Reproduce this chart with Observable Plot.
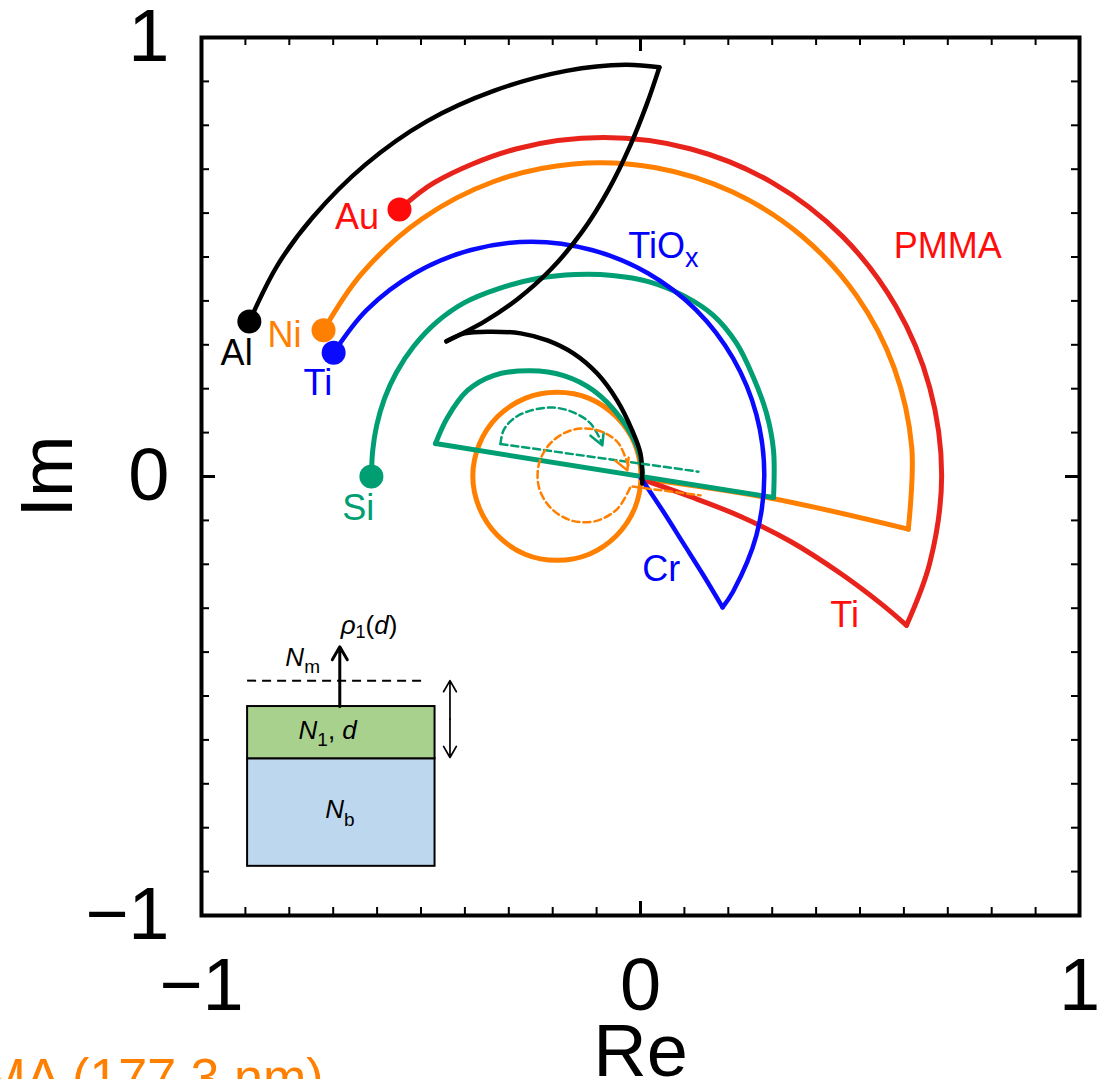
<!DOCTYPE html>
<html><head><meta charset="utf-8">
<script src="https://cdn.jsdelivr.net/npm/d3@7"></script>
<script src="https://cdn.jsdelivr.net/npm/@observablehq/plot@0.6"></script>
<style>
html,body{margin:0;padding:0;background:#fff;overflow:hidden;}
#chart svg{display:block;}
</style></head>
<body><div id="chart"></div>
<script>
// ---------- data: [Re, Im] points ----------
// Al substrate (black)
const alArc = [[-0.891,0.353],[-0.827,0.481],[-0.747,0.590],[-0.626,0.711],[-0.487,0.809],[-0.333,0.879],[-0.169,0.924],[-0.034,0.938],[0.043,0.932]];
const alReturn = [[0.043,0.932],[0.015,0.850],[-0.023,0.755],[-0.073,0.653],[-0.134,0.556],[-0.204,0.472],[-0.279,0.405],[-0.354,0.354],[-0.442,0.308]];
const alLoop = [[-0.442,0.308],[-0.401,0.326],[-0.342,0.330],[-0.273,0.326],[-0.212,0.310],[-0.152,0.280],[-0.099,0.235],[-0.053,0.173],[-0.019,0.105],[0.000,0.052],[0.004,-0.016]];
// Au substrate + PMMA, then Ti (red)
const auArc = [[-0.549,0.608],[-0.469,0.670],[-0.284,0.746],[-0.084,0.772],[0.115,0.746],[0.301,0.669],[0.460,0.547],[0.582,0.387],[0.659,0.202],[0.686,0.002],[0.659,-0.197],[0.606,-0.339]];
const auTi = [[0.606,-0.339],[0.547,-0.289],[0.456,-0.221],[0.342,-0.148],[0.228,-0.091],[0.114,-0.046],[0.005,-0.007]];
// Ni substrate (orange)
const niArc = [[-0.722,0.333],[-0.636,0.461],[-0.499,0.586],[-0.334,0.672],[-0.153,0.712],[0.032,0.704],[0.210,0.648],[0.366,0.549],[0.492,0.412],[0.578,0.247],[0.618,0.065],[0.610,-0.120]];
const niLine = [[0.610,-0.120],[0.300,-0.050],[0.000,-0.004]];
const niLoop = [[0.001,0.001],[-0.013,0.074],[-0.055,0.136],[-0.117,0.178],[-0.190,0.192],[-0.263,0.178],[-0.326,0.136],[-0.367,0.074],[-0.382,0.001],[-0.367,-0.072],[-0.326,-0.134],[-0.263,-0.177],[-0.190,-0.191],[-0.117,-0.177],[-0.055,-0.135],[-0.013,-0.072]];
// Ti substrate + TiOx, then Cr (blue)
const tiArc = [[-0.699,0.282],[-0.624,0.379],[-0.514,0.463],[-0.386,0.516],[-0.248,0.535],[-0.111,0.516],[0.017,0.463],[0.127,0.379],[0.211,0.269],[0.264,0.141],[0.282,0.003],[0.264,-0.134],[0.211,-0.262],[0.187,-0.298]];
const tiCr = [[0.187,-0.298],[0.144,-0.226],[0.098,-0.153],[0.050,-0.077],[0.002,-0.005]];
// Si substrate (green)
const siArc = [[-0.613,0.000],[-0.610,0.059],[-0.601,0.116],[-0.583,0.178],[-0.556,0.237],[-0.517,0.296],[-0.465,0.351],[-0.401,0.396],[-0.323,0.428],[-0.235,0.451],[-0.148,0.460],[-0.064,0.458],[0.018,0.444],[0.098,0.412],[0.166,0.367],[0.219,0.303],[0.257,0.226],[0.287,0.144],[0.303,0.059],[0.303,-0.048]];
const siLine = [[0.303,-0.048],[-0.467,0.075]];
const siLoop = [[-0.467,0.075],[-0.440,0.134],[-0.394,0.196],[-0.335,0.230],[-0.251,0.241],[-0.175,0.230],[-0.107,0.196],[-0.046,0.134],[-0.007,0.066],[0.005,0.009]];
// dashed guide arrows
const greenDashLine = [[-0.319,0.074],[0.132,0.011]];
const greenDashArc = [[-0.319,0.074],[-0.312,0.105],[-0.289,0.132],[-0.251,0.150],[-0.198,0.157],[-0.153,0.146],[-0.114,0.121],[-0.087,0.075]];
const greenHead = [[-0.114,0.093],[-0.087,0.071],[-0.084,0.100]];
const orangeDashLine = [[-0.018,-0.023],[0.137,-0.043]];
const orangeDashArc = [[-0.024,-0.026],[-0.052,-0.073],[-0.100,-0.101],[-0.155,-0.101],[-0.203,-0.073],[-0.231,-0.026],[-0.231,0.030],[-0.203,0.078],[-0.155,0.106],[-0.100,0.106],[-0.052,0.078],[-0.027,0.022]];
const orangeHead = [[-0.057,0.036],[-0.030,0.014],[-0.027,0.043]];
// starting points (substrates)
const startNames = ["Al","Ni","Ti","Si","Au"];
const startRe = [-0.891,-0.722,-0.699,-0.613,-0.549];
const startIm = [0.353,0.333,0.282,0.000,0.608];
// curve labels
const labelText = ["Al","Ni","Ti","Si","Au","TiOx","PMMA","Cr","Ti"];
const labelSeries = ["Al","Ni","Ti","Si","Au","Ti","Au","Ti","Au"];
const labelRe = [-0.920,-0.811,-0.735,-0.643,-0.646,0.052,0.700,0.047,0.465];
const labelIm = [0.253,0.294,0.185,-0.100,0.563,0.497,0.497,-0.237,-0.342];
// axis ticks
const majorTicks = [-1,0,1];
const minorTicks = [-0.9,-0.8,-0.7,-0.6,-0.5,-0.4,-0.3,-0.2,-0.1,0.1,0.2,0.3,0.4,0.5,0.6,0.7,0.8,0.9];
const centerTicks = [0];
// inset schematic (film on substrate)
const filmBox = {x1:-0.895, x2:-0.468, y1:-0.643, y2:-0.524};
const bulkBox = {x1:-0.895, x2:-0.468, y1:-0.888, y2:-0.643};
const ambientLine = {x1:-0.895, x2:-0.485, y:-0.465};
const rhoArrow = {x:-0.685, y1:-0.524, y2:-0.388};
const thickArrow = {x:-0.434, y1:-0.465, y2:-0.640};
const insetText = ["ρ1(d)","Nm","N1, d","Nb"];
const insetRe = [-0.683,-0.809,-0.779,-0.718];
const insetIm = [-0.358,-0.431,-0.597,-0.779];
const captionText = "PMMA (177.3 nm)";
const captionRe = -0.722, captionIm = -1.408;

// ---------- styles ----------
const COLORS = {Al:"#000000", Ni:"#ff8000", Ti:"#0a0aff", Si:"#009e73", Au:"#e8231b"};
const LABELCOLORS = {Al:"#000000", Ni:"#ff8000", Ti:"#0000ff", Si:"#009e73", Au:"#ff0d0d"};
const FONT = "'Liberation Sans', Arial, Helvetica, sans-serif";
const XY = {x: d => d[0], y: d => d[1]};
const line = (pts, color, w = 5, curve = "catmull-rom") => Plot.line(pts, {...XY, stroke: color, strokeWidth: w, curve, strokeLinecap: "round", strokeLinejoin: "round"});
const dashed = (pts, color) => Plot.line(pts, {...XY, stroke: color, strokeWidth: 2.5, strokeDasharray: "7,4", curve: "catmull-rom"});

const plot = Plot.plot({
  width: 1099, height: 1079,
  marginLeft: 201, marginRight: 20, marginTop: 37, marginBottom: 164,
  x: {domain: [-1, 1]}, y: {domain: [-1, 1]},
  style: {fontFamily: FONT, background: "#fff", overflow: "hidden"},
  marks: [
    // inset schematic
    Plot.rect([bulkBox], {x1: "x1", x2: "x2", y1: "y1", y2: "y2", fill: "#bdd7ee", stroke: "#000", strokeWidth: 2}),
    Plot.rect([filmBox], {x1: "x1", x2: "x2", y1: "y1", y2: "y2", fill: "#a9d18e", stroke: "#000", strokeWidth: 2}),
    Plot.ruleY([ambientLine], {y: "y", x1: "x1", x2: "x2", stroke: "#000", strokeWidth: 2, strokeDasharray: "9,6"}),
    Plot.arrow([rhoArrow], {x1: "x", x2: "x", y1: "y1", y2: "y2", stroke: "#000", strokeWidth: 3, headLength: 7.5, headAngle: 60}),
    Plot.arrow([thickArrow], {x1: "x", x2: "x", y1: d => (d.y1 + d.y2) / 2, y2: "y1", stroke: "#000", strokeWidth: 1.7, headLength: 12, headAngle: 60}),
    Plot.arrow([thickArrow], {x1: "x", x2: "x", y1: d => (d.y1 + d.y2) / 2, y2: "y2", stroke: "#000", strokeWidth: 1.7, headLength: 12, headAngle: 60}),
    Plot.text(insetText, {x: (d, i) => insetRe[i], y: (d, i) => insetIm[i], text: d => d, textAnchor: "start", lineAnchor: "bottom", fontSize: 26, fill: "#000"}),
    // curves
    line(niArc, COLORS.Ni), line(niLine, COLORS.Ni), line(niLoop, COLORS.Ni, 5, "catmull-rom-closed"),
    line(auArc, COLORS.Au), line(auTi, COLORS.Au),
    line(siArc, COLORS.Si), line(siLine, COLORS.Si), line(siLoop, COLORS.Si),
    line(tiArc, COLORS.Ti, 4.5), line(tiCr, COLORS.Ti, 4.5),
    line(alArc, COLORS.Al, 4.5), line(alReturn, COLORS.Al, 4.5), line(alLoop, COLORS.Al, 4.5),
    // dashed guides
    dashed(greenDashLine, COLORS.Si), dashed(greenDashArc, COLORS.Si),
    Plot.line(greenHead, {...XY, stroke: COLORS.Si, strokeWidth: 2.5}),
    dashed(orangeDashLine, COLORS.Ni), dashed(orangeDashArc, COLORS.Ni),
    Plot.line(orangeHead, {...XY, stroke: COLORS.Ni, strokeWidth: 2.5}),
    // start dots
    Plot.dot(startNames, {x: (d, i) => startRe[i], y: (d, i) => startIm[i], r: 12, fill: d => d === "Au" ? "#ff0a0a" : COLORS[d], stroke: "none"}),
    // labels
    Plot.text(labelText, {x: (d, i) => labelRe[i], y: (d, i) => labelIm[i], text: d => d, fill: (d, i) => LABELCOLORS[labelSeries[i]], fontSize: 36, textAnchor: "middle", lineAnchor: "bottom"}),
    Plot.text([captionText], {x: () => captionRe, y: () => captionIm, text: d => d, fill: COLORS.Ni, fontSize: 52, textAnchor: "end", lineAnchor: "bottom"}),
    // inward ticks on all four sides
    Plot.tickX(minorTicks, {x: d => d, insetTop: 870, stroke: "#000", strokeWidth: 2}),
    Plot.tickX(minorTicks, {x: d => d, insetBottom: 870, stroke: "#000", strokeWidth: 2}),
    Plot.tickY(minorTicks, {y: d => d, insetRight: 870, stroke: "#000", strokeWidth: 2}),
    Plot.tickY(minorTicks, {y: d => d, insetLeft: 870, stroke: "#000", strokeWidth: 2}),
    Plot.tickX(centerTicks, {x: d => d, insetTop: 864, stroke: "#000", strokeWidth: 3}),
    Plot.tickX(centerTicks, {x: d => d, insetBottom: 864, stroke: "#000", strokeWidth: 3}),
    Plot.tickY(centerTicks, {y: d => d, insetRight: 864, stroke: "#000", strokeWidth: 3}),
    Plot.tickY(centerTicks, {y: d => d, insetLeft: 864, stroke: "#000", strokeWidth: 3}),
    Plot.frame({stroke: "#000", strokeWidth: 4}),
    // axes
    Plot.axisX(majorTicks, {anchor: "bottom", tickSize: 0, tickPadding: 42, fontSize: 74, label: null, tickFormat: d => d < 0 ? "\u2212" + Math.abs(d) : String(d), fill: "#000"}),
    Plot.axisY(majorTicks, {anchor: "left", tickSize: 0, tickPadding: 32, fontSize: 74, label: null, tickFormat: d => d < 0 ? "\u2212" + Math.abs(d) : String(d), fill: "#000"}),
    Plot.text(["Re"], {frameAnchor: "bottom", dy: 160, lineAnchor: "bottom", fontSize: 74, fill: "#000"}),
    Plot.text(["Im"], {frameAnchor: "left", dx: -130, rotate: -90, lineAnchor: "bottom", textAnchor: "middle", fontSize: 74, fill: "#000"})
  ]
});

// rich text (italics and subscripts) for labels
const RICH = {
  "TiOx": [["TiO", {}], ["x", {size: 27, dy: 9}]],
  "ρ1(d)": [["ρ", {italic: true}], ["1", {size: 18, dy: 4}], ["(", {dy: -4}], ["d", {italic: true}], [")", {}]],
  "Nm": [["N", {italic: true}], ["m", {size: 19, dy: 7}]],
  "N1, d": [["N", {italic: true}], ["1", {size: 19, dy: 7}], [", ", {dy: -7}], ["d", {italic: true}]],
  "Nb": [["N", {italic: true}], ["b", {size: 19, dy: 8}]]
};
d3.select(plot).selectAll("text").each(function () {
  const parts = RICH[this.textContent];
  if (!parts) return;
  const t = d3.select(this);
  t.text(null);
  for (const [s, o] of parts) {
    const sp = t.append("tspan").text(s);
    if (o.italic) sp.attr("font-style", "italic");
    if (o.size) sp.attr("font-size", o.size);
    if (o.dy) sp.attr("dy", o.dy);
  }
});
document.getElementById("chart").append(plot);
</script></body></html>
